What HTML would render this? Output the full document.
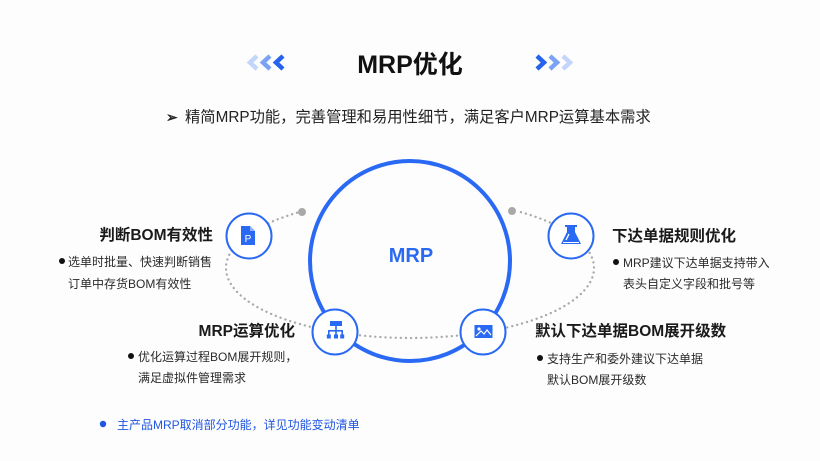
<!DOCTYPE html>
<html><head><meta charset="utf-8"><style>
html,body{margin:0;padding:0;background:#fdfdfd;}
svg{display:block;}
text{font-family:"Liberation Sans","Noto Sans CJK SC",sans-serif;}
.h{font-weight:bold;font-size:15.5px;fill:#1a1a1a;}
.b{font-size:12px;fill:#2a2a2a;}
</style></head><body>
<svg width="820" height="461" viewBox="0 0 820 461" xmlns="http://www.w3.org/2000/svg">
<rect width="820" height="461" fill="#fdfdfd"/>
<!-- chevrons -->
<g fill="none" stroke-width="4.5" stroke-linejoin="miter">
<polyline points="257,56 250,62.5 257,69" stroke="#c3d5fb"/>
<polyline points="270,56 263,62.5 270,69" stroke="#7ca2f5"/>
<polyline points="283,56 276,62.5 283,69" stroke="#2562ee"/>
<polyline points="537,56 544,62.5 537,69" stroke="#2562ee"/>
<polyline points="550,56 557,62.5 550,69" stroke="#7ca2f5"/>
<polyline points="563,56 570,62.5 563,69" stroke="#c3d5fb"/>
</g>
<text x="410" y="73" text-anchor="middle" font-size="25" font-weight="bold" fill="#111">MRP优化</text>
<text x="166" y="122" font-size="14" font-weight="bold" fill="#222">➢</text>
<text x="185" y="122" font-size="15.3" fill="#222">精简MRP功能，完善管理和易用性细节，满足客户MRP运算基本需求</text>

<!-- big circle -->
<circle cx="410" cy="261" r="100" fill="none" stroke="#2a69f3" stroke-width="4"/>
<text x="411" y="262" text-anchor="middle" font-size="20" font-weight="bold" fill="#2a69f3">MRP</text>

<!-- dotted ellipse arc -->
<path d="M302 211.3 A184 70 0 1 0 518 211.3" fill="none" stroke="#a9a9a9" stroke-width="2.3" stroke-linecap="round" stroke-dasharray="0.1 5"/>
<circle cx="302" cy="212" r="4" fill="#a9a9a9"/>
<circle cx="512" cy="211" r="4" fill="#a9a9a9"/>

<!-- small circles -->
<g fill="#fff" stroke="#2a69f3" stroke-width="2">
<circle cx="249" cy="236" r="22.5"/>
<circle cx="571" cy="236" r="22.5"/>
<circle cx="335" cy="332" r="22.5"/>
<circle cx="483" cy="332" r="22.5"/>
</g>
<!-- doc icon -->
<path d="M241 226 H250 L255 231 V245 H241 Z" fill="#2a69f3"/>
<path d="M250 226 V231 H255" fill="#8fb1f8"/>
<text x="248" y="242" text-anchor="middle" font-size="10" fill="#fff">P</text>
<!-- hierarchy icon -->
<g fill="#2a69f3">
<rect x="330" y="321" width="12" height="5"/>
<rect x="335.2" y="326" width="1.6" height="4"/>
<rect x="328" y="330" width="15" height="1.6"/>
<rect x="328" y="330" width="1.6" height="5"/>
<rect x="335.2" y="330" width="1.6" height="5"/>
<rect x="341.4" y="330" width="1.6" height="5"/>
<rect x="326.8" y="334.5" width="4" height="4"/>
<rect x="334" y="334.5" width="4" height="4"/>
<rect x="340.2" y="334.5" width="4" height="4"/>
</g>
<!-- flask icon -->
<g fill="#2a69f3">
<rect x="565" y="225" width="12" height="2"/>
<path d="M567 227 H575 V232 L581 244 H561 L567 232 Z"/>
</g>
<path d="M566 240 L569 234" stroke="#fff" stroke-width="1.3"/>
<rect x="563" y="242" width="16" height="1" fill="#fff"/>
<!-- image icon -->
<rect x="474.5" y="325" width="18" height="13" fill="#2a69f3"/>
<circle cx="479" cy="329" r="1.6" fill="#fff"/>
<polyline points="476,336 481,331 484,334 487,330 491,335" fill="none" stroke="#fff" stroke-width="1.2"/>

<!-- left top -->
<text x="213" y="240" text-anchor="end" class="h">判断BOM有效性</text>
<circle cx="62" cy="261" r="3" fill="#111"/>
<text x="68" y="266" class="b">选单时批量、快速判断销售</text>
<text x="68" y="288" class="b">订单中存货BOM有效性</text>

<!-- right top -->
<text x="612" y="241" class="h">下达单据规则优化</text>
<circle cx="616" cy="262" r="3" fill="#111"/>
<text x="623" y="267" class="b">MRP建议下达单据支持带入</text>
<text x="623" y="288" class="b">表头自定义字段和批号等</text>

<!-- left bottom -->
<text x="295" y="336" text-anchor="end" class="h">MRP运算优化</text>
<circle cx="131" cy="356" r="3" fill="#111"/>
<text x="138" y="361" class="b">优化运算过程BOM展开规则，</text>
<text x="138" y="382" class="b">满足虚拟件管理需求</text>

<!-- right bottom -->
<text x="535" y="336" class="h">默认下达单据BOM展开级数</text>
<circle cx="540" cy="358" r="3" fill="#111"/>
<text x="547" y="363" class="b">支持生产和委外建议下达单据</text>
<text x="547" y="384" class="b">默认BOM展开级数</text>

<!-- footer -->
<circle cx="103" cy="424" r="3.2" fill="#1f56e0"/>
<text x="117" y="429" font-size="12" fill="#1f56e0">主产品MRP取消部分功能，详见功能变动清单</text>
</svg>
</body></html>
